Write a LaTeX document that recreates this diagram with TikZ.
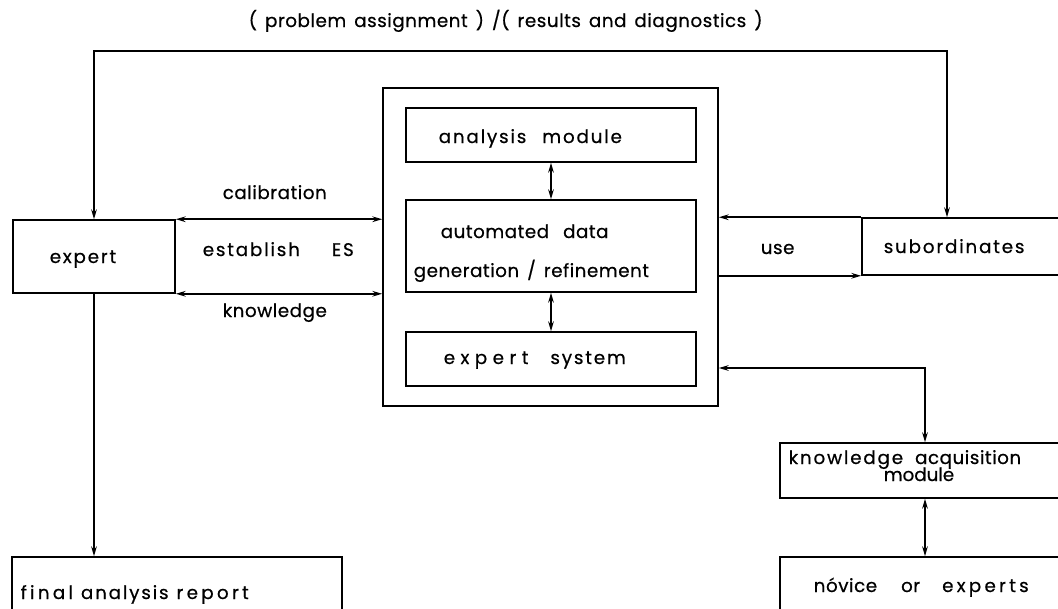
\documentclass[tikz,border=0pt]{standalone}
\usepackage{fontspec}
\setmainfont[FakeBold=0.6]{Poppins}
\newfontfamily\lsa[LetterSpace=3,FakeBold=0.6]{Poppins}
\newfontfamily\lsb[LetterSpace=10,FakeBold=0.6]{Poppins}
\newfontfamily\lsc[LetterSpace=18,FakeBold=0.6]{Poppins}
\newfontfamily\lsd[LetterSpace=30,FakeBold=0.6]{Poppins}
\newcommand{\gap}[1][0.2cm]{\hspace{#1}}
\usepackage{tikz}
\usetikzlibrary{arrows.meta,positioning,fit,calc}
\tikzset{
  box/.style={draw,line width=1.1pt,inner sep=0pt},
  lbl/.style={inner sep=0pt,anchor=base west,font=\fontsize{13}{15}\selectfont},
}

\begin{document}
\begin{tikzpicture}[x=0.025cm,y=-0.025cm,line width=1.1pt,>={Stealth[length=7pt,width=4pt]}]
\useasboundingbox (0,0) rectangle (1058,608);
\clip (0,0) rectangle (1058,608);
% boxes
\node [box,fit={(13,220) (175,293)}] (expert) {};
\node [box,fit={(383,88) (718,406)}] (outer) {};
\node [box,fit={(406,108) (696,162)}] (anal) {};
\node [box,fit={(406,200) (696,292)}] (auto) {};
\node [box,fit={(406,332) (696,386)}] (exsys) {};
\node [box,fit={(862,218) (1070,275)}] (subs) {};
\node [box,fit={(780,443) (1070,498)}] (ka) {};
\node [box,fit={(780,557) (1070,620)}] (novice) {};
\node [box,fit={(12,557) (342,620)}] (final) {};
% texts
\node [lbl] (toptxt) at (248,27) {\lsa (\gap problem\gap assignment\gap )\gap /(\gap results\gap and\gap diagnostics\gap )};
\node [lbl] (calib) at (222,199) {\lsa calibration};
\node [lbl] (estab) at (202,256) {{\lsb establish}\gap[0.8cm]{\lsb ES}};
\node [lbl] (knowl) at (222,317) {\lsa knowledge};
\node [lbl] (experttxt) at (49,263) {\lsb expert};
\node [lbl] (usetxt) at (760,254) {\lsa use};
\node [lbl] (substxt) at (883,253) {\lsb subordinates};
\node [lbl] (analtxt) at (438,143) {{\lsb analysis}\gap[0.4cm]{\lsb module}};
\node [lbl] (autotxt) at (440,238) {{\lsa automated}\gap[0.35cm]{\lsa data}};
\node [lbl] (gentxt) at (413,277) {\lsa generation\gap/\gap refinement};
\node [lbl] (exsystxt) at (443,364) {{\lsd expert}\gap[0.55cm]{\lsb system}};
\node [lbl] (katxt) at (788,464) {{\lsb knowledge}\gap[0.3cm]{\lsa acquisition}};
\node [lbl] (modtxt) at (883,481) {module};
\node [lbl] (novtxt) at (813,592) {{\lsa nóvice}\gap[0.6cm]{\lsa or}\gap[0.55cm]{\lsc experts}};
\node [lbl] (finaltxt) at (20,599) {{\lsc final}\gap{\lsb analysis}\gap{\lsc report}};
% connectors
\coordinate (tr) at (947,51);
\coordinate (kabend) at (925,368);
\draw [<->] (expert.north) |- (tr) -- (tr |- subs.north);
\draw [<->] (expert.north east) -- (expert.north east -| outer.west);
\draw [<->] (expert.south east) -- (expert.south east -| outer.west);
\draw [->] (subs.north west) -- (subs.north west -| outer.east);
\draw [->] (subs.south west -| outer.east) -- (subs.south west);
\draw [<->] (anal.south) -- (auto.north);
\draw [<->] (auto.south) -- (exsys.north);
\draw [<->] (kabend -| outer.east) -- (kabend) -- (ka.north);
\draw [<->] (ka.south) -- (novice.north);
\draw [->] (expert.south) -- (expert.south |- final.north);
\end{tikzpicture}
\end{document}
